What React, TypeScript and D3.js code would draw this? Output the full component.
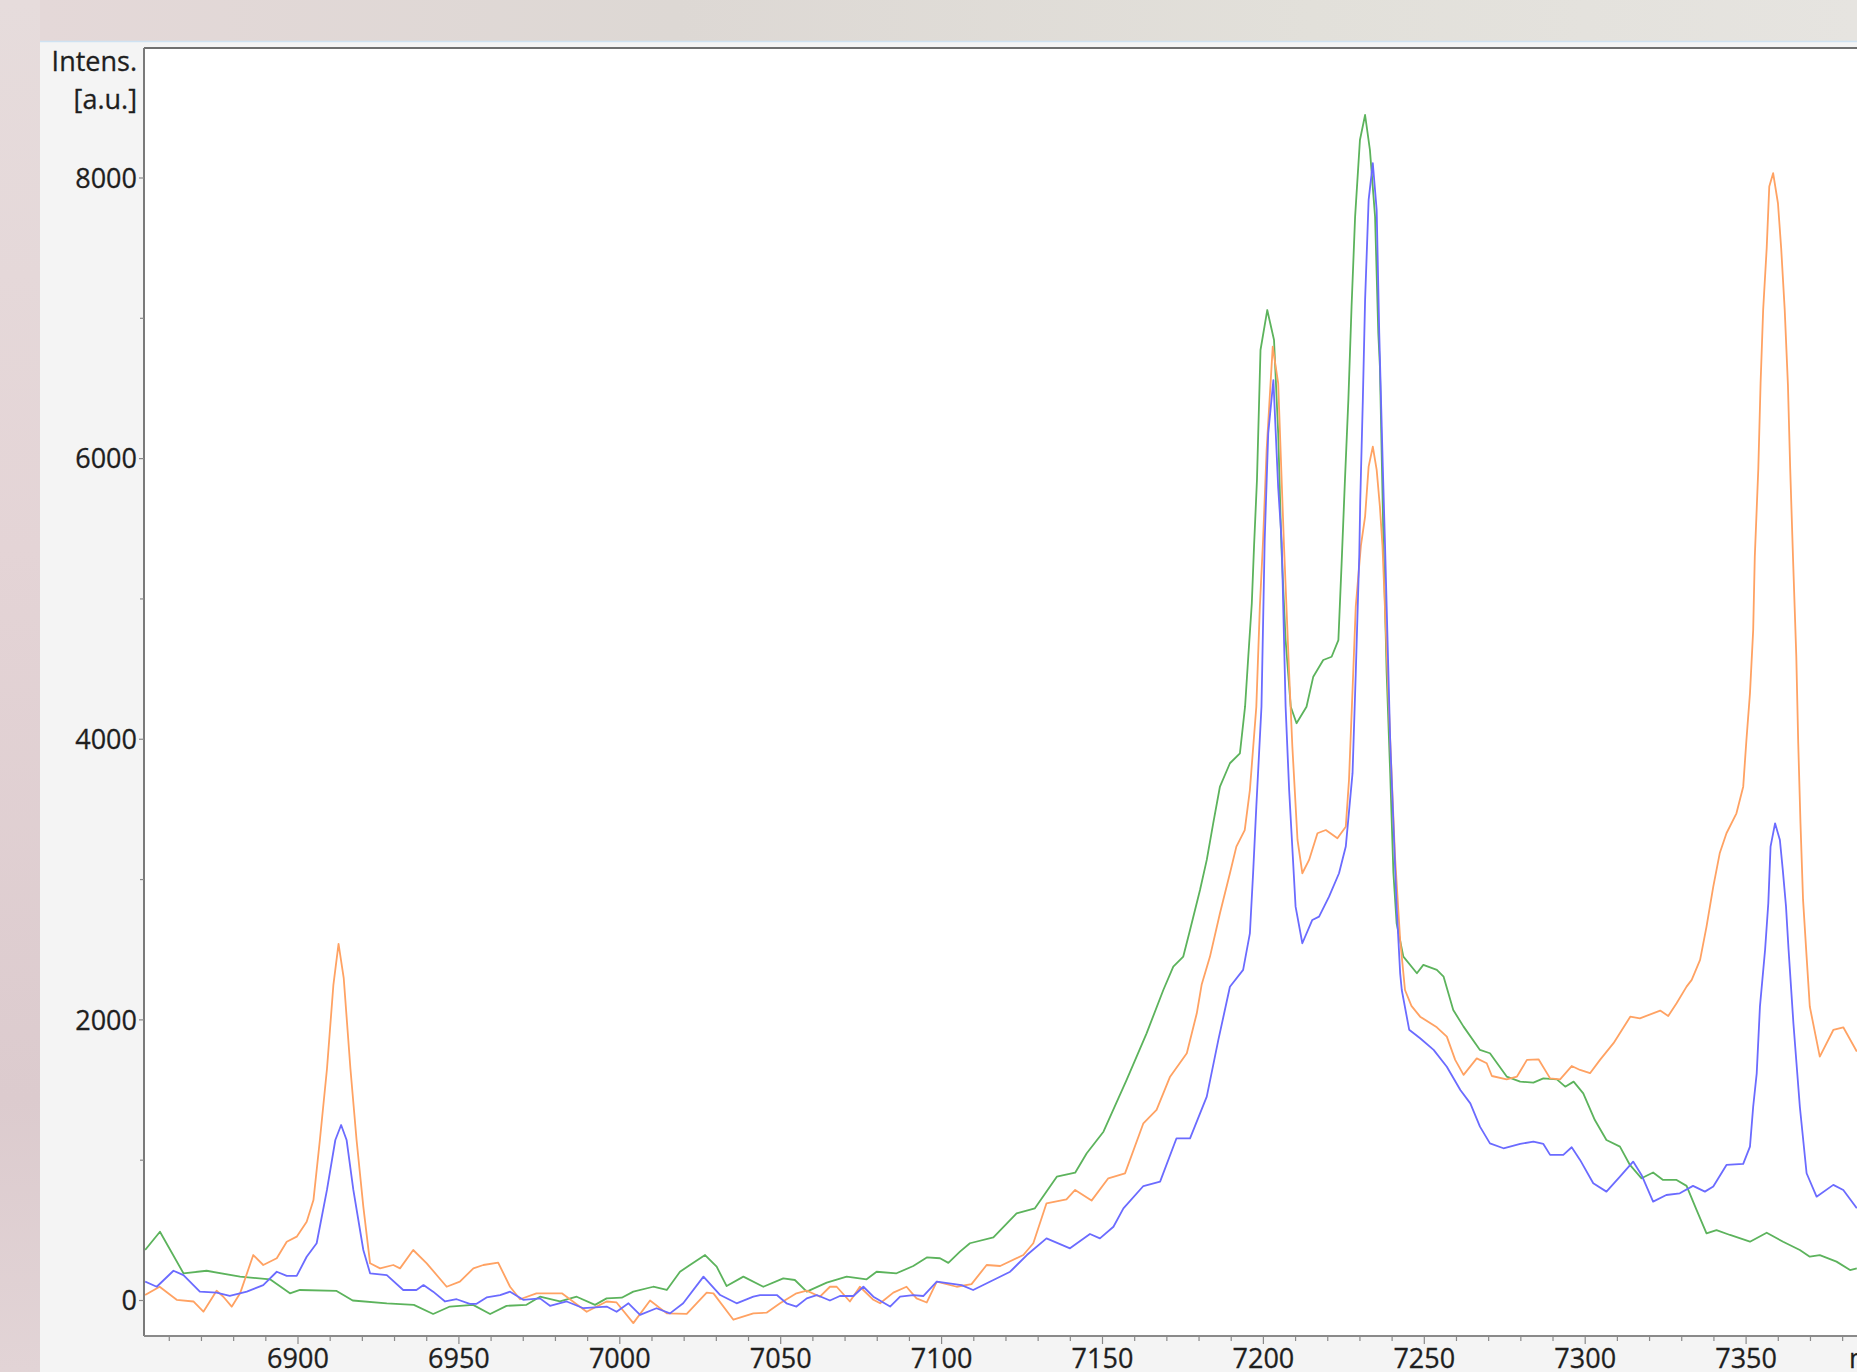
import * as d3 from 'd3';

const W = 1857;
const H = 1372;

// m/z tick labels (major every 50, minor every 10)
const xTickLabels = [6900, 6950, 7000, 7050, 7100, 7150, 7200, 7250, 7300, 7350];
const yTickLabels = [0, 2000, 4000, 6000, 8000];

// [m/z, intensity a.u.]
const greenSpectrum: [number, number][] = [
  [6852.5, 360], [6857.1, 490], [6864.4, 194], [6871.6, 212], [6882, 170], [6891.3, 151],
  [6897.5, 51], [6900.6, 75], [6912, 68], [6917, 0], [6927.6, -20], [6936, -31], [6942, -96],
  [6947.2, -43], [6954.4, -31], [6959.7, -96], [6964.8, -38], [6971, -31], [6975.2, 27],
  [6981.4, -7], [6986.6, 27], [6992.3, -31], [6995.9, 15], [7000.6, 20], [7004.2, 63],
  [7010.4, 98], [7014.6, 75], [7018.7, 205], [7021.8, 253], [7026.5, 324], [7030.1, 241],
  [7033.2, 103], [7038.4, 170], [7044.6, 98], [7050.8, 158], [7054.4, 146], [7058.1, 63],
  [7064.3, 127], [7070.5, 170], [7076.7, 151], [7079.8, 205], [7086, 194], [7091.2, 246],
  [7095.4, 307], [7099.5, 301], [7102.1, 268], [7105.7, 348], [7108.8, 408], [7116.1, 450],
  [7123.3, 621], [7129, 657], [7135.8, 882], [7141.5, 911], [7145.1, 1049], [7150.3, 1203],
  [7157.5, 1572], [7163.7, 1904], [7168.9, 2213], [7172, 2380], [7175.1, 2451], [7177.2, 2641],
  [7180.3, 2926], [7182.4, 3140], [7184.4, 3401], [7186.5, 3663], [7189.6, 3829], [7192.7, 3900],
  [7194.3, 4232], [7195.3, 4588], [7196.4, 4969], [7197.1, 5380], [7198, 5848], [7199.1, 6774],
  [7201.2, 7059], [7203.3, 6845], [7204.6, 6180], [7205.6, 5366], [7206.9, 4707], [7208.5, 4232],
  [7210.3, 4114], [7213.4, 4232], [7215.5, 4446], [7218.6, 4565], [7221.2, 4588], [7223.3, 4707],
  [7224.3, 5250], [7225.3, 5824], [7226.4, 6418], [7227.4, 7086], [7228.5, 7725], [7230, 8271],
  [7231.6, 8449], [7233.1, 8200], [7234.7, 7725], [7235.7, 6893], [7236.2, 6656], [7237.3, 5420],
  [7238.3, 4470], [7239.4, 3758], [7240.4, 3045], [7241.4, 2688], [7243.5, 2451], [7247.7, 2332],
  [7249.7, 2392], [7253.9, 2356], [7256, 2308], [7259, 2070], [7262.2, 1952], [7267.3, 1786],
  [7270.4, 1762], [7275.6, 1596], [7279.8, 1560], [7283.9, 1553], [7287, 1583], [7291.2, 1576],
  [7293.8, 1524], [7296.4, 1560], [7299.4, 1476], [7303, 1286], [7306.6, 1144], [7310.8, 1097],
  [7313.9, 966], [7317.5, 871], [7321.1, 912], [7324.2, 859], [7328.4, 859], [7331.5, 817],
  [7334.6, 646], [7337.7, 478], [7340.8, 502], [7345, 467], [7351.2, 419], [7356.4, 483],
  [7361.5, 419], [7366.7, 360], [7369.8, 312], [7372.9, 324], [7378.1, 277], [7382.3, 217],
  [7384.4, 229],
];

const orangeSpectrum: [number, number][] = [
  [6852.5, 39], [6857, 98], [6862.3, 5], [6867.5, -7], [6870.6, -80], [6874.7, 70], [6876.8, 27],
  [6879.4, -44], [6882, 51], [6886.1, 324], [6889.2, 253], [6893.4, 301], [6896.5, 419],
  [6899.6, 455], [6902.7, 562], [6904.8, 716], [6906.8, 1144], [6909, 1650], [6911, 2250],
  [6912.6, 2541], [6914.2, 2300], [6916.3, 1650], [6918.2, 1144], [6920.3, 669], [6922.4, 265],
  [6925.5, 229], [6929.6, 253], [6931.7, 229], [6935.8, 360], [6940, 265], [6946.2, 98],
  [6950.3, 134], [6954.5, 229], [6957.6, 253], [6962.2, 270], [6965.9, 98], [6969, 9],
  [6974.1, 51], [6982, 51], [6989.7, -80], [6995.9, -7], [6999, -14], [7004.2, -161],
  [7009.4, 0], [7014.6, -92], [7020.8, -96], [7027, 56], [7029.1, 51], [7035.3, -137],
  [7041.5, -92], [7045.6, -87], [7049.8, -20], [7054.9, 51], [7058.1, 70], [7062.2, 27],
  [7065.3, 98], [7067.4, 98], [7071.5, -7], [7074.6, 98], [7078.8, 5], [7080.9, -20], [7085, 56],
  [7089.1, 98], [7092.2, 15], [7095.4, -14], [7098.5, 134], [7104.7, 98], [7109.3, 117],
  [7114, 253], [7118.2, 246], [7125.4, 324], [7128.5, 408], [7132.6, 693], [7138.8, 721],
  [7141.5, 788], [7146.6, 712], [7151.8, 871], [7157, 906], [7162.7, 1263], [7166.8, 1358],
  [7171, 1595], [7176.2, 1762], [7179.3, 2047], [7180.8, 2250], [7183.4, 2451], [7186.5, 2760],
  [7189.6, 3045], [7191.6, 3235], [7194.2, 3353], [7195.8, 3638], [7197.8, 4232], [7198.9, 4945],
  [7199.9, 5420], [7201, 6062], [7202.9, 6798], [7204.6, 6537], [7206.4, 5380], [7208, 4470],
  [7209, 3947], [7210.6, 3282], [7212.1, 3045], [7214.2, 3140], [7216.8, 3330], [7219.4, 3353],
  [7223, 3294], [7225.6, 3377], [7226.6, 3710], [7227.7, 4351], [7228.7, 4945], [7230.3, 5380],
  [7231.6, 5587], [7232.7, 5943], [7234, 6085], [7235.2, 5920], [7236.2, 5659], [7237, 5380],
  [7239.4, 3995], [7240.9, 3164], [7242.5, 2570], [7244, 2213], [7246, 2100], [7248.7, 2023],
  [7253.9, 1947], [7257, 1881], [7259.6, 1715], [7262.2, 1608], [7266.3, 1726], [7269.4, 1691],
  [7271, 1600], [7275.6, 1576], [7278.8, 1596], [7281.9, 1715], [7285.5, 1719], [7289.1, 1583],
  [7292.2, 1576], [7295.8, 1671], [7298.4, 1643], [7301.5, 1620], [7304.6, 1715], [7308.8, 1834],
  [7314, 2023], [7317, 2011], [7323.3, 2066], [7325.8, 2028], [7328.4, 2118], [7331.5, 2237],
  [7333.1, 2285], [7335.7, 2428], [7337.7, 2665], [7339.8, 2950], [7341.8, 3187], [7343.9, 3330],
  [7347, 3472], [7349.1, 3662], [7350.1, 3995], [7351.2, 4327], [7352.2, 4778], [7352.7, 5300],
  [7353.8, 5931], [7354.5, 6537], [7355.3, 7060], [7356.4, 7500], [7357.2, 7939], [7358.4, 8034],
  [7359.9, 7820], [7360.9, 7500], [7362, 7060], [7363, 6525], [7363.7, 5931], [7364.6, 5278],
  [7365.6, 4589], [7366.2, 3971], [7366.9, 3401], [7367.7, 2855], [7368.8, 2451], [7369.8, 2094],
  [7372.9, 1738], [7377.1, 1928], [7380.2, 1947], [7384.4, 1774],
];

const blueSpectrum: [number, number][] = [
  [6852.5, 134], [6856.1, 98], [6861.3, 212], [6864.4, 181], [6869.5, 63], [6874.7, 56],
  [6878.8, 33], [6884.1, 63], [6889.2, 110], [6893.4, 205], [6896.5, 175], [6899.6, 175],
  [6902.7, 312], [6905.8, 408], [6909, 788], [6911.6, 1144], [6913.4, 1251], [6915.1, 1144],
  [6917.2, 788], [6920.3, 360], [6922.4, 194], [6927.6, 181], [6932.7, 75], [6936.8, 75],
  [6939, 110], [6942, 63], [6945.7, -7], [6949.3, 9], [6953.4, -24], [6955.5, -24], [6958.6, 22],
  [6962.8, 39], [6965.9, 63], [6970, 5], [6975.2, 15], [6978.3, -38], [6983.5, -7], [6988.7, -55],
  [6995.9, -43], [6999, -80], [7002.7, -20], [7006.3, -103], [7011.4, -55], [7015.6, -92],
  [7019.7, -20], [7026, 170], [7031.2, 39], [7036.3, -20], [7041.5, 27], [7043.6, 39],
  [7048.8, 39], [7051.8, -20], [7054.9, -43], [7058.1, 15], [7061.2, 39], [7065.3, 0],
  [7068.4, 32], [7072.6, 32], [7075.7, 98], [7078.8, 27], [7084, -43], [7087.1, 27], [7091.2, 39],
  [7094.3, 32], [7098.5, 134], [7106.2, 110], [7109.8, 75], [7116.1, 146], [7121.3, 205],
  [7126.5, 324], [7132.6, 443], [7139.9, 372], [7146.1, 474], [7149.2, 443], [7153.4, 526],
  [7156.5, 657], [7162.7, 816], [7167.9, 847], [7173, 1156], [7177.2, 1156], [7182.4, 1453],
  [7186, 1857], [7189.6, 2236], [7193.7, 2356], [7195.8, 2617], [7196.8, 3045], [7197.8, 3520],
  [7199.4, 4232], [7200.4, 5420], [7201.5, 6180], [7203.1, 6560], [7204.6, 5793], [7205.7, 5400],
  [7206.9, 4232], [7208, 3638], [7210, 2807], [7212.1, 2546], [7215.2, 2712], [7217.3, 2736],
  [7220.4, 2878], [7223.5, 3045], [7225.6, 3235], [7227.7, 3758], [7228.7, 4470], [7229.8, 5320],
  [7230.1, 5705], [7230.9, 6418], [7231.6, 7131], [7232.7, 7844], [7234, 8105], [7235.2, 7772],
  [7236, 6893], [7237.1, 5943], [7237.8, 5380], [7239.4, 3995], [7240.4, 3401], [7241.4, 2807],
  [7242.5, 2332], [7243, 2213], [7245.3, 1930], [7248.7, 1869], [7252.9, 1786], [7257, 1666],
  [7261.2, 1500], [7264.3, 1405], [7267.3, 1239], [7270.4, 1120], [7274.6, 1085], [7279.8, 1116],
  [7283.9, 1132], [7287, 1116], [7289.1, 1038], [7293.2, 1038], [7295.8, 1092], [7298.4, 1002],
  [7302.5, 836], [7306.6, 776], [7310.8, 883], [7314.9, 990], [7317.5, 895], [7321.1, 705],
  [7325.2, 752], [7329.4, 764], [7333.5, 817], [7337.2, 776], [7339.8, 812], [7343.9, 966],
  [7349.1, 974], [7351.2, 1097], [7352.2, 1381], [7353.3, 1619], [7354.3, 2094], [7355.9, 2500],
  [7356.9, 2831], [7357.6, 3235], [7359, 3401], [7360.5, 3282], [7361.4, 3069], [7362.4, 2808],
  [7363.2, 2500], [7364.7, 1976], [7366.7, 1381], [7368.8, 907], [7371.9, 740], [7377.1, 824],
  [7380.2, 788], [7384.4, 658],
];

const series = [
  { name: 'green', color: '#5cb35c', data: greenSpectrum },
  { name: 'orange', color: '#ffa263', data: orangeSpectrum },
  { name: 'blue', color: '#6b6bff', data: blueSpectrum },
];

// plot frame
const PLOT = { left: 144, top: 48, bottom: 1336, right: W };
const FONT = '"Open Sans", "Liberation Sans", sans-serif';
const TEXT = { fontFamily: FONT, fontSize: 27, fill: '#1e1e1e', stroke: '#1e1e1e', strokeWidth: 0.3 };

export default function App() {
  const x = d3.scaleLinear().domain([6900, 7350]).range([298, 1746.1]);
  const y = d3.scaleLinear().domain([0, 8000]).range([1300.5, 178]);

  const line = d3.line<[number, number]>()
    .x(d => x(d[0]))
    .y(d => y(d[1]));

  const xMin = x.invert(PLOT.left);
  const xMax = x.invert(PLOT.right);
  const minorX = d3.range(Math.ceil(xMin / 10) * 10, xMax, 10);
  const yMinor = d3.range(1000, 9000, 2000);

  return (
    <div style={{ position: 'absolute', left: 0, top: 0, width: W, height: H, overflow: 'hidden' }}>
      <svg width={W} height={H} style={{ display: 'block' }}>
        <defs>
          <linearGradient id="topBg" x1="0" x2="1" y1="0" y2="0">
            <stop offset="0" stopColor="#e4d8d8" />
            <stop offset="0.35" stopColor="#ddd8d4" />
            <stop offset="0.7" stopColor="#e2e0da" />
            <stop offset="1" stopColor="#e6e4e0" />
          </linearGradient>
          <linearGradient id="leftBg" x1="0" x2="0" y1="0" y2="1">
            <stop offset="0" stopColor="#e6dcdc" />
            <stop offset="0.4" stopColor="#e4d4d6" />
            <stop offset="0.8" stopColor="#dccbce" />
            <stop offset="1" stopColor="#e2d4d6" />
          </linearGradient>
          <clipPath id="plotClip">
            <rect x={PLOT.left + 1} y={PLOT.top + 1} width={PLOT.right - PLOT.left} height={PLOT.bottom - PLOT.top - 2} />
          </clipPath>
        </defs>

        {/* desktop behind the window */}
        <rect x={0} y={0} width={W} height={H} fill="url(#leftBg)" />
        <rect x={40} y={0} width={W - 40} height={41} fill="url(#topBg)" />

        {/* window panel */}
        <rect x={40} y={41} width={W - 40} height={H - 41} fill="#f4f4f4" />
        <line x1={40} x2={W} y1={41.5} y2={41.5} stroke="#cfe2f2" strokeWidth={1.5} />

        {/* plot area */}
        <rect x={PLOT.left} y={PLOT.top} width={PLOT.right - PLOT.left} height={PLOT.bottom - PLOT.top} fill="#ffffff" />

        <g clipPath="url(#plotClip)" fill="none">
          {series.map(s => (
            <path key={s.name} d={line(s.data) ?? ''} stroke={s.color} strokeWidth={1.8} strokeLinejoin="round" />
          ))}
        </g>

        {/* frame */}
        <line x1={PLOT.left} x2={PLOT.right} y1={PLOT.top} y2={PLOT.top} stroke="#707070" strokeWidth={2} />
        <line x1={PLOT.left} x2={PLOT.left} y1={PLOT.top} y2={PLOT.bottom} stroke="#7a7a7a" strokeWidth={2} />
        <line x1={PLOT.left} x2={PLOT.right} y1={PLOT.bottom} y2={PLOT.bottom} stroke="#8a8a8a" strokeWidth={2} />

        {/* y axis */}
        {yTickLabels.map(v => (
          <g key={v}>
            <line x1={PLOT.left - 5} x2={PLOT.left} y1={y(v)} y2={y(v)} stroke="#8a8a8a" strokeWidth={1.2} />
            <text x={137} y={y(v)} dy="0.36em" textAnchor="end" {...TEXT}>
              {v}
            </text>
          </g>
        ))}
        {yMinor.map(v => (
          <line key={v} x1={PLOT.left - 4} x2={PLOT.left} y1={y(v)} y2={y(v)} stroke="#8a8a8a" strokeWidth={1.2} />
        ))}
        <text x={137} y={71} textAnchor="end" {...TEXT}>Intens.</text>
        <text x={137} y={109} textAnchor="end" {...TEXT}>[a.u.]</text>

        {/* x axis */}
        {minorX.map(v => {
          const major = v % 50 === 0;
          return (
            <line key={v} x1={x(v)} x2={x(v)} y1={PLOT.bottom} y2={PLOT.bottom + (major ? 8 : 5)}
              stroke="#8a8a8a" strokeWidth={1.2} />
          );
        })}
        {xTickLabels.map(v => (
          <text key={v} x={x(v)} y={1368} textAnchor="middle" {...TEXT}>
            {v}
          </text>
        ))}
        <text x={1849} y={1368} {...TEXT}>m/z</text>
      </svg>
    </div>
  );
}
